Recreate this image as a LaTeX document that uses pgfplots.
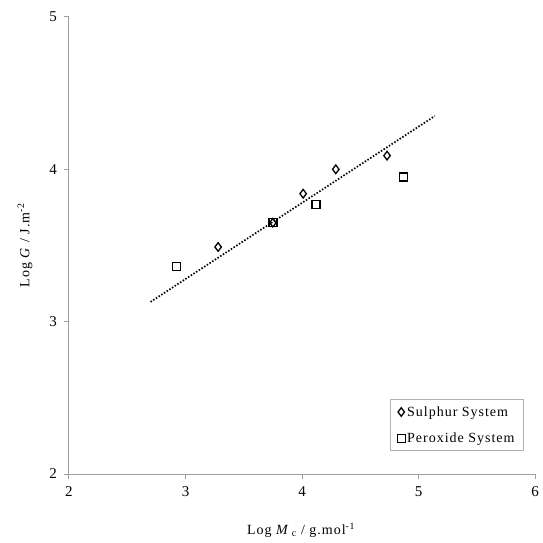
\documentclass[border=0pt]{standalone}
\usepackage{fontspec}
\setmainfont{Liberation Serif}
\newfontfamily\lsfont{Liberation Serif}[LetterSpace=7]
\usepackage{pgfplots}
\pgfplotsset{compat=1.18}
\begin{document}
\begin{tikzpicture}
\begin{axis}[
  at={(0,0)}, anchor=south west,
  scale only axis, width=466pt, height=457pt,
  xmin=2, xmax=6, ymin=2, ymax=5,
  xtick={2,3,4,5,6}, ytick={2,3,4,5},
  axis x line*=bottom, axis y line*=left,
  axis line style={gray!75, line width=1pt, -},
  tick style={gray!75, line width=1pt},
  tick align=outside, major tick length=4.5pt,
  tick label style={font=\fontsize{15}{17}\selectfont},
  /pgf/number format/assume math mode=true,
  xticklabel style={yshift=-5pt},
  yticklabel style={xshift=-4pt},
  xlabel={\lsfont\fontsize{14}{16}\selectfont Log \textit{M}\,\textsubscript{c} / g.mol\textsuperscript{-1}},
  ylabel={\lsfont\fontsize{14}{16}\selectfont Log \textit{G} / J.m\textsuperscript{-2}},
  xlabel style={at={(rel axis cs:0.498,-0.1225)}, anchor=center},
  ylabel style={at={(rel axis cs:-0.0944,0.501)}, anchor=center},
  legend style={at={(rel axis cs:0.976,0.164)}, anchor=north east,
    draw=gray!60, line width=0.7pt, font=\lsfont\fontsize{14}{16}\selectfont,
    row sep=11pt, inner xsep=7pt, inner ysep=5pt,
    /tikz/every even column/.append style={column sep=1pt}},
  legend cell align=left,
  clip=false,
]
\addplot[black, line width=1.7pt, dash pattern=on 1.5pt off 1.7pt, forget plot]
  coordinates {(2.70,3.13) (5.14,4.35)};
\addplot[only marks, mark=diamond, mark size=4.3pt, mark options={black, line width=1.3pt, fill=white}]
  coordinates {(3.28,3.49) (3.75,3.65) (4.01,3.84) (4.29,4.00) (4.73,4.09)};
\addlegendentry{Sulphur System}
\addplot[only marks, mark=square, mark size=4pt, mark options={black, line width=1.3pt}]
  coordinates {(2.92,3.36) (3.75,3.65) (4.12,3.77) (4.87,3.95)};
\addlegendentry{Peroxide System}
\end{axis}
\path (-69pt,-69pt) rectangle (470pt,474pt);
\end{tikzpicture}
\end{document}
